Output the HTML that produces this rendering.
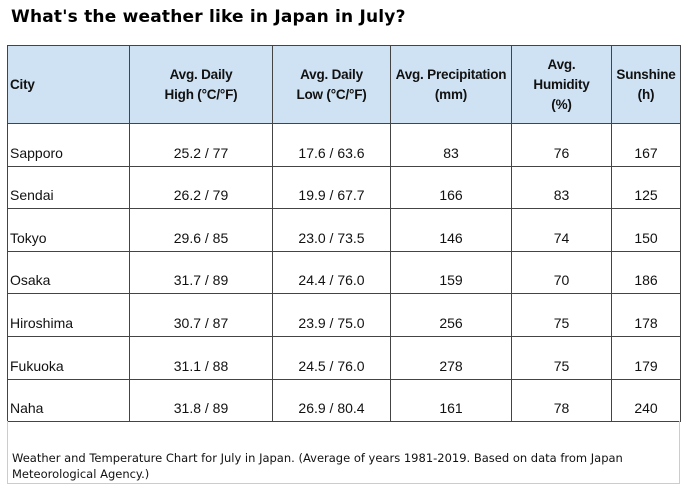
<!DOCTYPE html>
<html><head><meta charset="utf-8"><style>
body{margin:0;width:686px;height:490px;background:#fff;position:relative;overflow:hidden}
h1{position:absolute;left:11px;top:7px;margin:0;font:bold 17px "DejaVu Sans",sans-serif;color:#000;letter-spacing:0.2px}
table{position:absolute;left:7px;top:45px;border-collapse:collapse;table-layout:fixed;font:14px "Liberation Sans",sans-serif;color:#111}
td,th{border:1px solid #444;padding:0 2px;text-align:center;vertical-align:middle;box-sizing:border-box}
th{background:#cfe2f3;font-weight:bold;height:78px;line-height:20px;font-size:13.5px;letter-spacing:-0.2px}
td{height:42.6px;vertical-align:bottom;padding-bottom:5px}
.l{text-align:left}
.cap{position:absolute;left:7px;top:421px;width:673px;height:63px;border:1px solid #ccc;border-top:none;font:11.5px "DejaVu Sans",sans-serif;color:#111;box-sizing:border-box;padding:29px 0 0 4px;line-height:16px}
</style></head><body>
<h1>What's the weather like in Japan in July?</h1>
<table>
<colgroup><col style="width:122px"><col style="width:143px"><col style="width:118px"><col style="width:121px"><col style="width:100px"><col style="width:69px"></colgroup>
<tr><th class="l">City</th><th>Avg. Daily<br>High (°C/°F)</th><th>Avg. Daily<br>Low (°C/°F)</th><th style="white-space:nowrap">Avg. Precipitation<br>(mm)</th><th>Avg.<br>Humidity<br>(%)</th><th>Sunshine<br>(h)</th></tr>
<tr><td class="l">Sapporo</td><td>25.2 / 77</td><td>17.6 / 63.6</td><td>83</td><td>76</td><td>167</td></tr>
<tr><td class="l">Sendai</td><td>26.2 / 79</td><td>19.9 / 67.7</td><td>166</td><td>83</td><td>125</td></tr>
<tr><td class="l">Tokyo</td><td>29.6 / 85</td><td>23.0 / 73.5</td><td>146</td><td>74</td><td>150</td></tr>
<tr><td class="l">Osaka</td><td>31.7 / 89</td><td>24.4 / 76.0</td><td>159</td><td>70</td><td>186</td></tr>
<tr><td class="l">Hiroshima</td><td>30.7 / 87</td><td>23.9 / 75.0</td><td>256</td><td>75</td><td>178</td></tr>
<tr><td class="l">Fukuoka</td><td>31.1 / 88</td><td>24.5 / 76.0</td><td>278</td><td>75</td><td>179</td></tr>
<tr><td class="l">Naha</td><td>31.8 / 89</td><td>26.9 / 80.4</td><td>161</td><td>78</td><td>240</td></tr>
</table>
<div class="cap">Weather and Temperature Chart for July in Japan. (Average of years 1981-2019. Based on data from Japan Meteorological Agency.)</div>
</body></html>
